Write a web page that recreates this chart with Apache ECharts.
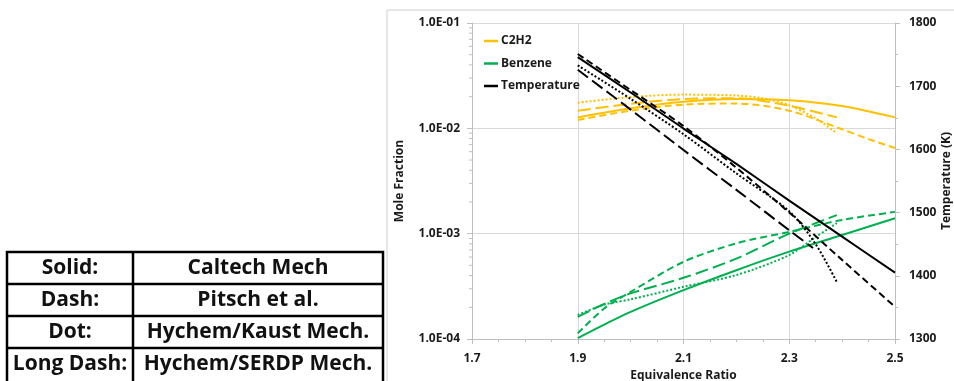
<!DOCTYPE html>
<html>
<head>
<meta charset="utf-8">
<script src="https://cdn.jsdelivr.net/npm/echarts@6/dist/echarts.min.js"></script>
<style>
html,body{margin:0;padding:0;background:#fff;}
#chart{width:954px;height:381px;}
</style>
</head>
<body>
<div id="chart"></div>
<script>
// ---- Data ----
const xTicks = [1.7, 1.9, 2.1, 2.3, 2.5];
const tempTicks = [1300, 1400, 1500, 1600, 1700, 1800];
const moleTicks = [1e-4, 1e-3, 1e-2, 1e-1];
const logMinorMultipliers = [2, 3, 4, 5, 6, 7, 8, 9];

// C2H2 mole fraction
const xC2H2Caltech = [1.9, 2.0, 2.1, 2.2, 2.3, 2.4, 2.5];
const c2h2Caltech  = [0.0127, 0.0155, 0.0179, 0.0190, 0.0185, 0.0163, 0.0127];
const xC2H2Pitsch  = [1.9, 2.0, 2.1, 2.2, 2.3, 2.4, 2.45, 2.5];
const c2h2Pitsch   = [0.0120, 0.0147, 0.0168, 0.0172, 0.0147, 0.0098, 0.0079, 0.0065];
const xC2H2Kaust   = [1.9, 2.0, 2.1, 2.2, 2.25, 2.3, 2.35, 2.39];
const c2h2Kaust    = [0.0175, 0.0198, 0.0209, 0.0205, 0.0193, 0.0166, 0.0124, 0.0090];
const xC2H2Serdp   = [1.9, 2.0, 2.1, 2.2, 2.3, 2.39];
const c2h2Serdp    = [0.0147, 0.0171, 0.0190, 0.0193, 0.0164, 0.0127];

// Benzene mole fraction
const xBenzCaltech = [1.9, 1.95, 2.0, 2.1, 2.2, 2.3, 2.4, 2.5];
const benzCaltech  = [1.02e-4, 1.37e-4, 1.81e-4, 2.91e-4, 4.5e-4, 6.75e-4, 9.7e-4, 1.40e-3];
const xBenzPitsch  = [1.9, 1.95, 2.0, 2.1, 2.2, 2.3, 2.4, 2.5];
const benzPitsch   = [1.13e-4, 1.95e-4, 2.8e-4, 5.4e-4, 8.1e-4, 1.04e-3, 1.35e-3, 1.61e-3];
const xBenzKaust   = [1.9, 1.95, 2.0, 2.1, 2.2, 2.3, 2.35, 2.39];
const benzKaust    = [1.69e-4, 2.12e-4, 2.38e-4, 3.13e-4, 4.05e-4, 6.26e-4, 9.3e-4, 1.26e-3];
const xBenzSerdp   = [1.9, 1.95, 2.0, 2.1, 2.2, 2.3, 2.39];
const benzSerdp    = [1.62e-4, 2.15e-4, 2.71e-4, 3.81e-4, 5.8e-4, 1.0e-3, 1.5e-3];

// Temperature (K)
const xTempCaltech = [1.9, 2.0, 2.1, 2.2, 2.3, 2.4, 2.5];
const tempCaltech  = [1746, 1690, 1633, 1577, 1519, 1462, 1405];
const xTempPitsch  = [1.9, 2.0, 2.1, 2.2, 2.3, 2.4, 2.5];
const tempPitsch   = [1751, 1694, 1637, 1571, 1500, 1425, 1351];
const xTempKaust   = [1.9, 2.0, 2.1, 2.2, 2.3, 2.35, 2.39];
const tempKaust    = [1733, 1680, 1624, 1562, 1502, 1450, 1390];
const xTempSerdp   = [1.9, 2.0, 2.1, 2.2, 2.3, 2.345];
const tempSerdp    = [1726, 1663, 1599, 1536, 1472, 1444];

const tableRows = [
  ['Solid:', 'Caltech Mech'],
  ['Dash:', 'Pitsch et al.'],
  ['Dot:', 'Hychem/Kaust Mech.'],
  ['Long Dash:', 'Hychem/SERDP Mech.']
];

// ---- Styles ----
const FONT = 'Open Sans';
const ORANGE = '#FFC000', GREEN = '#00B050', BLACK = '#000000';
const DASH = {solid: 'solid', dash: [7, 4], dot: [2, 2], longdash: [13, 5]};

function pairs(xs, ys) { return xs.map((x, i) => [x, ys[i]]); }

function lineSeries(name, color, dash, xs, ys, yAxisIndex, z) {
  return {
    type: 'line', name: name, data: pairs(xs, ys),
    xAxisIndex: 0, yAxisIndex: yAxisIndex,
    symbol: 'none', smooth: 0.3, z: z,
    lineStyle: {color: color, width: 2, type: DASH[dash], cap: 'butt'},
    itemStyle: {color: color},
    emphasis: {disabled: true}, silent: true
  };
}

function fmtE(v) {
  const e = Math.round(Math.log10(v));
  const m = v / Math.pow(10, e);
  const sign = e < 0 ? '-' : '+';
  return m.toFixed(1) + 'E' + sign + String(Math.abs(e)).padStart(2, '0');
}

const logMinor = [];
moleTicks.slice(0, -1).forEach(d => logMinorMultipliers.forEach(m => logMinor.push(d * m)));

const labelStyle = {fontFamily: FONT, fontWeight: 'bold', fontSize: 12, color: '#1a1a1a'};
const axisGray = '#bfbfbf';
const gridGray = '#d9d9d9';

// table graphics
const tbl = {x: 7, y: 252, w: 376, rowH: 32, col: 133, h: 140};
const tableEls = [];
tableEls.push({type: 'rect', shape: {x: tbl.x, y: tbl.y, width: tbl.w, height: tbl.h},
  style: {fill: '#fff', stroke: '#000', lineWidth: 2.5}});
tableEls.push({type: 'line', shape: {x1: tbl.col, y1: tbl.y, x2: tbl.col, y2: tbl.y + tbl.h},
  style: {stroke: '#000', lineWidth: 2.5}});
tableRows.forEach((r, i) => {
  if (i > 0) {
    tableEls.push({type: 'line', shape: {x1: tbl.x, y1: tbl.y + i * tbl.rowH, x2: tbl.x + tbl.w, y2: tbl.y + i * tbl.rowH},
      style: {stroke: '#000', lineWidth: 2.5}});
  }
  const cy = tbl.y + i * tbl.rowH + tbl.rowH / 2;
  tableEls.push({type: 'text', x: (tbl.x + tbl.col) / 2, y: cy,
    style: {text: r[0], fontFamily: FONT, fontWeight: 'bold', fontSize: 21, fill: '#111', align: 'center', verticalAlign: 'middle'}});
  tableEls.push({type: 'text', x: (tbl.col + tbl.x + tbl.w) / 2, y: cy,
    style: {text: r[1], fontFamily: FONT, fontWeight: 'bold', fontSize: 21, fill: '#111', align: 'center', verticalAlign: 'middle'}});
});

const chart = echarts.init(document.getElementById('chart'), null, {renderer: 'canvas'});
chart.setOption({
  animation: false,
  backgroundColor: '#fff',
  textStyle: {fontFamily: FONT},
  grid: {left: 472, top: 23, width: 423, height: 316, containLabel: false, outerBoundsMode: 'none'},
  legend: {
    data: ['C2H2', 'Benzene', 'Temperature'],
    orient: 'vertical', left: 484, top: 35,
    icon: 'rect', itemWidth: 14, itemHeight: 2.5, itemGap: 10.5,
    selectedMode: false, padding: 0,
    textStyle: {fontFamily: FONT, fontWeight: 'bold', fontSize: 12, color: '#1a1a1a', padding: [0, 0, 0, -2]}
  },
  graphic: [
    {type: 'rect', shape: {x: 387, y: 10, width: 700, height: 500},
      style: {fill: 'none', stroke: '#d0d0d0', lineWidth: 1}, z: -10, silent: true},
    {type: 'group', children: tableEls, silent: true}
  ],
  xAxis: {
    type: 'value', min: xTicks[0], max: xTicks[xTicks.length - 1], interval: 0.2,
    name: 'Equivalence Ratio', nameLocation: 'middle', nameGap: 31,
    nameTextStyle: labelStyle,
    axisLine: {show: true, onZero: false, lineStyle: {color: axisGray}},
    axisTick: {show: true, length: 5, lineStyle: {color: axisGray}},
    minorTick: {show: true, splitNumber: 4, length: 3, lineStyle: {color: axisGray}},
    axisLabel: Object.assign({margin: 14, formatter: v => v.toFixed(1)}, labelStyle),
    splitLine: {show: true, lineStyle: {color: gridGray}}
  },
  yAxis: [
    {
      type: 'log', logBase: 10, min: moleTicks[0], max: moleTicks[moleTicks.length - 1],
      position: 'left',
      name: 'Mole Fraction', nameLocation: 'middle', nameGap: 66, nameRotate: 90,
      nameTextStyle: labelStyle,
      axisLine: {show: true, lineStyle: {color: axisGray}},
      axisTick: {show: true, length: 5, lineStyle: {color: axisGray}},
      axisLabel: Object.assign({margin: 12, formatter: v => fmtE(v)}, labelStyle),
      splitLine: {show: true, lineStyle: {color: gridGray}}
    },
    {
      type: 'value', min: tempTicks[0], max: tempTicks[tempTicks.length - 1], interval: 100,
      position: 'right',
      name: 'Temperature (K)', nameLocation: 'middle', nameGap: 39, nameRotate: 90,
      nameTextStyle: labelStyle,
      axisLine: {show: true, lineStyle: {color: axisGray}},
      axisTick: {show: true, length: 5, lineStyle: {color: axisGray}},
      minorTick: {show: true, splitNumber: 2, length: 3, lineStyle: {color: axisGray}},
      axisLabel: Object.assign({margin: 14, formatter: v => String(v)}, labelStyle),
      splitLine: {show: false}
    }
  ],
  series: [
    {
      type: 'custom', name: 'minorTicks', xAxisIndex: 0, yAxisIndex: 0, silent: true, clip: false, z: 1,
      data: logMinor.map(v => [xTicks[0], v]),
      renderItem: function (params, api) {
        const p = api.coord([api.value(0), api.value(1)]);
        return {type: 'line', shape: {x1: p[0] - 3, y1: p[1], x2: p[0], y2: p[1]},
          style: {stroke: axisGray, lineWidth: 1}};
      }
    },
    lineSeries('C2H2', ORANGE, 'solid', xC2H2Caltech, c2h2Caltech, 0, 3),
    lineSeries('C2H2', ORANGE, 'dash', xC2H2Pitsch, c2h2Pitsch, 0, 3),
    lineSeries('C2H2', ORANGE, 'dot', xC2H2Kaust, c2h2Kaust, 0, 3),
    lineSeries('C2H2', ORANGE, 'longdash', xC2H2Serdp, c2h2Serdp, 0, 3),
    lineSeries('Benzene', GREEN, 'solid', xBenzCaltech, benzCaltech, 0, 3),
    lineSeries('Benzene', GREEN, 'dash', xBenzPitsch, benzPitsch, 0, 3),
    lineSeries('Benzene', GREEN, 'dot', xBenzKaust, benzKaust, 0, 3),
    lineSeries('Benzene', GREEN, 'longdash', xBenzSerdp, benzSerdp, 0, 3),
    lineSeries('Temperature', BLACK, 'solid', xTempCaltech, tempCaltech, 1, 4),
    lineSeries('Temperature', BLACK, 'dash', xTempPitsch, tempPitsch, 1, 4),
    lineSeries('Temperature', BLACK, 'dot', xTempKaust, tempKaust, 1, 4),
    lineSeries('Temperature', BLACK, 'longdash', xTempSerdp, tempSerdp, 1, 4)
  ]
});
</script>
</body>
</html>
